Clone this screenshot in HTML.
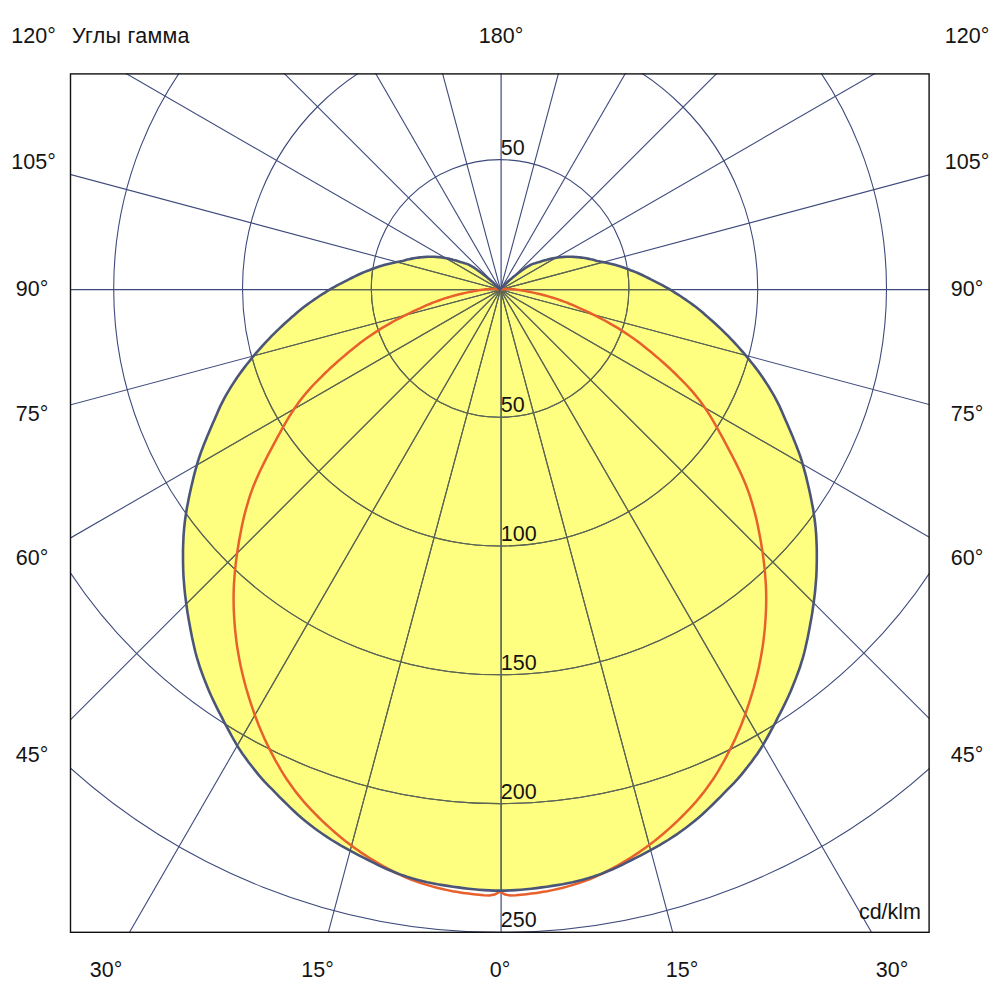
<!DOCTYPE html>
<html><head><meta charset="utf-8"><title>Polar diagram</title><style>
html,body{margin:0;padding:0;background:#fff;}
body{width:1000px;height:1000px;position:relative;overflow:hidden;font-family:"Liberation Sans",sans-serif;}
</style></head><body>
<svg width="1000" height="1000" viewBox="0 0 1000 1000" style="position:absolute;left:0;top:0">
<defs><clipPath id="c"><rect x="70.5" y="73.5" width="859" height="859"/></clipPath><clipPath id="y"><path d="M499.9,289.7 L498.8,288.4 L498.1,287.7 L497.4,286.9 L496.6,286.0 L495.7,285.1 L494.8,284.3 L493.9,283.4 L493.0,282.5 L492.0,281.6 L490.9,280.7 L489.6,279.6 L488.2,278.4 L486.6,277.1 L484.9,275.7 L483.0,274.3 L481.1,272.8 L479.0,271.2 L476.9,269.7 L474.8,268.2 L472.7,266.9 L470.9,265.8 L469.4,265.0 L468.1,264.4 L466.9,263.9 L465.8,263.5 L464.7,263.2 L463.7,262.9 L462.6,262.6 L461.4,262.3 L460.2,261.9 L458.9,261.5 L457.5,261.1 L456.0,260.6 L454.5,260.2 L452.9,259.8 L451.3,259.3 L449.7,258.9 L448.1,258.6 L446.5,258.3 L444.9,258.0 L443.4,257.7 L441.8,257.5 L440.2,257.3 L438.6,257.1 L437.0,257.0 L435.5,256.9 L433.9,256.8 L432.4,256.8 L430.9,256.8 L429.4,256.8 L427.8,256.8 L426.3,256.9 L424.7,257.0 L423.2,257.1 L421.6,257.3 L420.0,257.4 L418.4,257.6 L416.8,257.8 L415.2,258.0 L413.7,258.3 L412.1,258.6 L410.5,258.9 L408.9,259.3 L407.4,259.6 L405.8,260.0 L404.2,260.5 L402.6,260.9 L400.8,261.3 L398.9,261.7 L396.9,262.1 L394.8,262.5 L392.6,262.9 L390.4,263.4 L388.3,263.9 L386.1,264.5 L384.0,265.1 L381.9,265.7 L379.8,266.3 L377.7,267.1 L375.6,267.8 L373.5,268.6 L371.4,269.3 L369.2,270.2 L367.0,271.0 L364.8,271.9 L362.6,272.8 L360.4,273.8 L358.2,274.8 L356.0,275.8 L353.8,276.9 L351.6,278.0 L349.3,279.2 L347.0,280.3 L344.5,281.6 L342.1,282.8 L339.6,284.1 L337.1,285.4 L334.6,286.8 L332.1,288.2 L329.6,289.7 L327.1,291.2 L324.6,292.8 L322.0,294.4 L319.5,296.0 L317.0,297.7 L314.5,299.4 L311.9,301.2 L309.3,303.0 L306.8,304.9 L304.2,306.8 L301.7,308.8 L299.2,310.8 L296.8,312.8 L294.4,314.9 L291.9,317.1 L289.5,319.3 L286.9,321.5 L284.4,323.8 L281.8,326.2 L279.2,328.6 L276.6,331.1 L274.1,333.6 L271.5,336.2 L269.0,338.8 L266.5,341.4 L264.0,344.2 L261.4,347.0 L258.9,349.8 L256.4,352.7 L253.9,355.6 L251.4,358.6 L249.0,361.7 L246.5,364.8 L244.1,367.9 L241.7,371.1 L239.4,374.3 L237.1,377.6 L234.8,381.0 L232.6,384.4 L230.4,387.8 L228.3,391.3 L226.2,394.8 L224.3,398.3 L222.5,401.8 L220.7,405.3 L219.1,408.9 L217.5,412.5 L215.9,416.2 L214.3,419.9 L212.7,423.6 L211.0,427.5 L209.3,431.4 L207.6,435.4 L206.0,439.5 L204.3,443.6 L202.7,447.7 L201.1,451.9 L199.6,456.2 L198.2,460.4 L197.0,464.6 L195.8,468.8 L194.6,473.1 L193.5,477.4 L192.5,481.8 L191.4,486.2 L190.4,490.7 L189.4,495.2 L188.5,499.8 L187.6,504.4 L186.7,509.0 L186.0,513.6 L185.3,518.3 L184.7,523.0 L184.2,527.6 L183.8,532.3 L183.5,536.9 L183.3,541.6 L183.1,546.2 L183.0,550.9 L183.0,555.6 L183.0,560.3 L183.1,565.1 L183.2,569.8 L183.4,574.6 L183.7,579.4 L184.1,584.2 L184.5,589.0 L185.0,593.8 L185.6,598.6 L186.2,603.4 L186.9,608.2 L187.6,613.1 L188.4,617.9 L189.3,622.8 L190.2,627.7 L191.1,632.6 L192.1,637.6 L193.2,642.5 L194.3,647.5 L195.5,652.5 L196.8,657.3 L198.3,662.2 L199.8,667.0 L201.5,671.7 L203.2,676.4 L205.0,681.1 L206.9,685.7 L208.8,690.4 L210.8,695.0 L212.9,699.5 L215.1,704.1 L217.3,708.6 L219.6,713.2 L222.0,717.7 L224.3,722.3 L226.8,726.8 L229.2,731.4 L231.7,736.0 L234.3,740.6 L236.9,745.2 L239.7,749.6 L242.6,753.9 L245.6,758.1 L248.6,762.2 L251.8,766.3 L255.0,770.4 L258.2,774.4 L261.6,778.3 L265.0,782.1 L268.6,785.8 L272.2,789.4 L275.8,793.1 L279.4,796.8 L283.1,800.5 L286.8,804.2 L290.6,807.9 L294.4,811.5 L298.2,815.0 L302.2,818.5 L306.2,821.8 L310.3,825.0 L314.5,828.2 L318.7,831.3 L323.0,834.3 L327.3,837.2 L331.7,840.0 L336.1,842.6 L340.6,845.3 L345.1,847.8 L349.7,850.3 L354.3,852.8 L358.9,855.3 L363.5,857.7 L368.2,860.0 L372.9,862.4 L377.7,864.8 L382.4,867.1 L387.2,869.3 L392.1,871.3 L397.0,873.3 L401.9,875.1 L406.9,876.8 L411.9,878.3 L417.0,879.7 L422.1,881.0 L427.2,882.2 L432.3,883.2 L437.4,884.2 L442.6,885.1 L447.7,885.9 L452.9,886.7 L458.1,887.4 L463.3,888.1 L468.5,888.7 L473.7,889.2 L478.9,889.7 L484.2,890.1 L489.4,890.4 L494.7,890.6 L499.9,890.6 L505.1,890.6 L510.4,890.4 L515.6,890.1 L520.9,889.7 L526.1,889.2 L531.3,888.7 L536.5,888.1 L541.7,887.4 L546.9,886.7 L552.1,885.9 L557.2,885.1 L562.4,884.2 L567.5,883.2 L572.6,882.2 L577.7,881.0 L582.8,879.7 L587.9,878.3 L592.9,876.8 L597.9,875.1 L602.8,873.3 L607.7,871.3 L612.6,869.3 L617.4,867.1 L622.1,864.8 L626.9,862.4 L631.6,860.0 L636.3,857.7 L640.9,855.3 L645.5,852.8 L650.1,850.3 L654.7,847.8 L659.2,845.3 L663.7,842.6 L668.1,840.0 L672.5,837.2 L676.8,834.3 L681.1,831.3 L685.3,828.2 L689.5,825.0 L693.6,821.8 L697.6,818.5 L701.6,815.0 L705.4,811.5 L709.2,807.9 L713.0,804.2 L716.7,800.5 L720.4,796.8 L724.0,793.1 L727.6,789.4 L731.2,785.8 L734.8,782.1 L738.2,778.3 L741.6,774.4 L744.8,770.4 L748.0,766.3 L751.2,762.2 L754.2,758.1 L757.2,753.9 L760.1,749.6 L762.9,745.2 L765.5,740.6 L768.1,736.0 L770.6,731.4 L773.0,726.8 L775.5,722.3 L777.8,717.7 L780.2,713.2 L782.5,708.6 L784.7,704.1 L786.9,699.5 L789.0,695.0 L791.0,690.4 L792.9,685.7 L794.8,681.1 L796.6,676.4 L798.3,671.7 L800.0,667.0 L801.5,662.2 L803.0,657.3 L804.3,652.5 L805.5,647.5 L806.6,642.5 L807.7,637.6 L808.7,632.6 L809.6,627.7 L810.5,622.8 L811.4,617.9 L812.2,613.1 L812.9,608.2 L813.6,603.4 L814.2,598.6 L814.8,593.8 L815.3,589.0 L815.7,584.2 L816.1,579.4 L816.4,574.6 L816.6,569.8 L816.7,565.1 L816.8,560.3 L816.8,555.6 L816.8,550.9 L816.7,546.2 L816.5,541.6 L816.3,536.9 L816.0,532.3 L815.6,527.6 L815.1,523.0 L814.5,518.3 L813.8,513.6 L813.1,509.0 L812.2,504.4 L811.3,499.8 L810.4,495.2 L809.4,490.7 L808.4,486.2 L807.3,481.8 L806.3,477.4 L805.2,473.1 L804.0,468.8 L802.8,464.6 L801.6,460.4 L800.2,456.2 L798.7,451.9 L797.1,447.7 L795.5,443.6 L793.8,439.5 L792.2,435.4 L790.5,431.4 L788.8,427.5 L787.1,423.6 L785.5,419.9 L783.9,416.2 L782.3,412.5 L780.7,408.9 L779.1,405.3 L777.3,401.8 L775.5,398.3 L773.6,394.8 L771.5,391.3 L769.4,387.8 L767.2,384.4 L765.0,381.0 L762.7,377.6 L760.4,374.3 L758.1,371.1 L755.7,367.9 L753.3,364.8 L750.8,361.7 L748.4,358.6 L745.9,355.6 L743.4,352.7 L740.9,349.8 L738.4,347.0 L735.8,344.2 L733.3,341.4 L730.8,338.8 L728.3,336.2 L725.7,333.6 L723.2,331.1 L720.6,328.6 L718.0,326.2 L715.4,323.8 L712.9,321.5 L710.3,319.3 L707.9,317.1 L705.4,314.9 L703.0,312.8 L700.6,310.8 L698.1,308.8 L695.6,306.8 L693.0,304.9 L690.5,303.0 L687.9,301.2 L685.3,299.4 L682.8,297.7 L680.3,296.0 L677.8,294.4 L675.2,292.8 L672.7,291.2 L670.2,289.7 L667.7,288.2 L665.2,286.8 L662.7,285.4 L660.2,284.1 L657.7,282.8 L655.3,281.6 L652.8,280.3 L650.5,279.2 L648.2,278.0 L646.0,276.9 L643.8,275.8 L641.6,274.8 L639.4,273.8 L637.2,272.8 L635.0,271.9 L632.8,271.0 L630.6,270.2 L628.4,269.3 L626.3,268.6 L624.2,267.8 L622.1,267.1 L620.0,266.3 L617.9,265.7 L615.8,265.1 L613.7,264.5 L611.5,263.9 L609.4,263.4 L607.2,262.9 L605.0,262.5 L602.9,262.1 L600.9,261.7 L599.0,261.3 L597.2,260.9 L595.6,260.5 L594.0,260.0 L592.4,259.6 L590.9,259.3 L589.3,258.9 L587.7,258.6 L586.1,258.3 L584.6,258.0 L583.0,257.8 L581.4,257.6 L579.8,257.4 L578.2,257.3 L576.6,257.1 L575.1,257.0 L573.5,256.9 L572.0,256.8 L570.4,256.8 L568.9,256.8 L567.4,256.8 L565.9,256.8 L564.3,256.9 L562.8,257.0 L561.2,257.1 L559.6,257.3 L558.0,257.5 L556.4,257.7 L554.9,258.0 L553.3,258.3 L551.7,258.6 L550.1,258.9 L548.5,259.3 L546.9,259.8 L545.3,260.2 L543.8,260.6 L542.3,261.1 L540.9,261.5 L539.6,261.9 L538.4,262.3 L537.2,262.6 L536.1,262.9 L535.1,263.2 L534.0,263.5 L532.9,263.9 L531.7,264.4 L530.4,265.0 L528.9,265.8 L527.1,266.9 L525.0,268.2 L522.9,269.7 L520.8,271.2 L518.7,272.8 L516.8,274.3 L514.9,275.7 L513.2,277.1 L511.6,278.4 L510.2,279.6 L508.9,280.7 L507.8,281.6 L506.8,282.5 L505.9,283.4 L505.0,284.3 L504.1,285.1 L503.2,286.0 L502.4,286.9 L501.7,287.7 L501.0,288.4 L499.9,289.7 Z"/></clipPath></defs>
<rect x="0" y="0" width="1000" height="1000" fill="#fff"/>
<g clip-path="url(#c)">
<path d="M499.9,289.7 L498.8,288.4 L498.1,287.7 L497.4,286.9 L496.6,286.0 L495.7,285.1 L494.8,284.3 L493.9,283.4 L493.0,282.5 L492.0,281.6 L490.9,280.7 L489.6,279.6 L488.2,278.4 L486.6,277.1 L484.9,275.7 L483.0,274.3 L481.1,272.8 L479.0,271.2 L476.9,269.7 L474.8,268.2 L472.7,266.9 L470.9,265.8 L469.4,265.0 L468.1,264.4 L466.9,263.9 L465.8,263.5 L464.7,263.2 L463.7,262.9 L462.6,262.6 L461.4,262.3 L460.2,261.9 L458.9,261.5 L457.5,261.1 L456.0,260.6 L454.5,260.2 L452.9,259.8 L451.3,259.3 L449.7,258.9 L448.1,258.6 L446.5,258.3 L444.9,258.0 L443.4,257.7 L441.8,257.5 L440.2,257.3 L438.6,257.1 L437.0,257.0 L435.5,256.9 L433.9,256.8 L432.4,256.8 L430.9,256.8 L429.4,256.8 L427.8,256.8 L426.3,256.9 L424.7,257.0 L423.2,257.1 L421.6,257.3 L420.0,257.4 L418.4,257.6 L416.8,257.8 L415.2,258.0 L413.7,258.3 L412.1,258.6 L410.5,258.9 L408.9,259.3 L407.4,259.6 L405.8,260.0 L404.2,260.5 L402.6,260.9 L400.8,261.3 L398.9,261.7 L396.9,262.1 L394.8,262.5 L392.6,262.9 L390.4,263.4 L388.3,263.9 L386.1,264.5 L384.0,265.1 L381.9,265.7 L379.8,266.3 L377.7,267.1 L375.6,267.8 L373.5,268.6 L371.4,269.3 L369.2,270.2 L367.0,271.0 L364.8,271.9 L362.6,272.8 L360.4,273.8 L358.2,274.8 L356.0,275.8 L353.8,276.9 L351.6,278.0 L349.3,279.2 L347.0,280.3 L344.5,281.6 L342.1,282.8 L339.6,284.1 L337.1,285.4 L334.6,286.8 L332.1,288.2 L329.6,289.7 L327.1,291.2 L324.6,292.8 L322.0,294.4 L319.5,296.0 L317.0,297.7 L314.5,299.4 L311.9,301.2 L309.3,303.0 L306.8,304.9 L304.2,306.8 L301.7,308.8 L299.2,310.8 L296.8,312.8 L294.4,314.9 L291.9,317.1 L289.5,319.3 L286.9,321.5 L284.4,323.8 L281.8,326.2 L279.2,328.6 L276.6,331.1 L274.1,333.6 L271.5,336.2 L269.0,338.8 L266.5,341.4 L264.0,344.2 L261.4,347.0 L258.9,349.8 L256.4,352.7 L253.9,355.6 L251.4,358.6 L249.0,361.7 L246.5,364.8 L244.1,367.9 L241.7,371.1 L239.4,374.3 L237.1,377.6 L234.8,381.0 L232.6,384.4 L230.4,387.8 L228.3,391.3 L226.2,394.8 L224.3,398.3 L222.5,401.8 L220.7,405.3 L219.1,408.9 L217.5,412.5 L215.9,416.2 L214.3,419.9 L212.7,423.6 L211.0,427.5 L209.3,431.4 L207.6,435.4 L206.0,439.5 L204.3,443.6 L202.7,447.7 L201.1,451.9 L199.6,456.2 L198.2,460.4 L197.0,464.6 L195.8,468.8 L194.6,473.1 L193.5,477.4 L192.5,481.8 L191.4,486.2 L190.4,490.7 L189.4,495.2 L188.5,499.8 L187.6,504.4 L186.7,509.0 L186.0,513.6 L185.3,518.3 L184.7,523.0 L184.2,527.6 L183.8,532.3 L183.5,536.9 L183.3,541.6 L183.1,546.2 L183.0,550.9 L183.0,555.6 L183.0,560.3 L183.1,565.1 L183.2,569.8 L183.4,574.6 L183.7,579.4 L184.1,584.2 L184.5,589.0 L185.0,593.8 L185.6,598.6 L186.2,603.4 L186.9,608.2 L187.6,613.1 L188.4,617.9 L189.3,622.8 L190.2,627.7 L191.1,632.6 L192.1,637.6 L193.2,642.5 L194.3,647.5 L195.5,652.5 L196.8,657.3 L198.3,662.2 L199.8,667.0 L201.5,671.7 L203.2,676.4 L205.0,681.1 L206.9,685.7 L208.8,690.4 L210.8,695.0 L212.9,699.5 L215.1,704.1 L217.3,708.6 L219.6,713.2 L222.0,717.7 L224.3,722.3 L226.8,726.8 L229.2,731.4 L231.7,736.0 L234.3,740.6 L236.9,745.2 L239.7,749.6 L242.6,753.9 L245.6,758.1 L248.6,762.2 L251.8,766.3 L255.0,770.4 L258.2,774.4 L261.6,778.3 L265.0,782.1 L268.6,785.8 L272.2,789.4 L275.8,793.1 L279.4,796.8 L283.1,800.5 L286.8,804.2 L290.6,807.9 L294.4,811.5 L298.2,815.0 L302.2,818.5 L306.2,821.8 L310.3,825.0 L314.5,828.2 L318.7,831.3 L323.0,834.3 L327.3,837.2 L331.7,840.0 L336.1,842.6 L340.6,845.3 L345.1,847.8 L349.7,850.3 L354.3,852.8 L358.9,855.3 L363.5,857.7 L368.2,860.0 L372.9,862.4 L377.7,864.8 L382.4,867.1 L387.2,869.3 L392.1,871.3 L397.0,873.3 L401.9,875.1 L406.9,876.8 L411.9,878.3 L417.0,879.7 L422.1,881.0 L427.2,882.2 L432.3,883.2 L437.4,884.2 L442.6,885.1 L447.7,885.9 L452.9,886.7 L458.1,887.4 L463.3,888.1 L468.5,888.7 L473.7,889.2 L478.9,889.7 L484.2,890.1 L489.4,890.4 L494.7,890.6 L499.9,890.6 L505.1,890.6 L510.4,890.4 L515.6,890.1 L520.9,889.7 L526.1,889.2 L531.3,888.7 L536.5,888.1 L541.7,887.4 L546.9,886.7 L552.1,885.9 L557.2,885.1 L562.4,884.2 L567.5,883.2 L572.6,882.2 L577.7,881.0 L582.8,879.7 L587.9,878.3 L592.9,876.8 L597.9,875.1 L602.8,873.3 L607.7,871.3 L612.6,869.3 L617.4,867.1 L622.1,864.8 L626.9,862.4 L631.6,860.0 L636.3,857.7 L640.9,855.3 L645.5,852.8 L650.1,850.3 L654.7,847.8 L659.2,845.3 L663.7,842.6 L668.1,840.0 L672.5,837.2 L676.8,834.3 L681.1,831.3 L685.3,828.2 L689.5,825.0 L693.6,821.8 L697.6,818.5 L701.6,815.0 L705.4,811.5 L709.2,807.9 L713.0,804.2 L716.7,800.5 L720.4,796.8 L724.0,793.1 L727.6,789.4 L731.2,785.8 L734.8,782.1 L738.2,778.3 L741.6,774.4 L744.8,770.4 L748.0,766.3 L751.2,762.2 L754.2,758.1 L757.2,753.9 L760.1,749.6 L762.9,745.2 L765.5,740.6 L768.1,736.0 L770.6,731.4 L773.0,726.8 L775.5,722.3 L777.8,717.7 L780.2,713.2 L782.5,708.6 L784.7,704.1 L786.9,699.5 L789.0,695.0 L791.0,690.4 L792.9,685.7 L794.8,681.1 L796.6,676.4 L798.3,671.7 L800.0,667.0 L801.5,662.2 L803.0,657.3 L804.3,652.5 L805.5,647.5 L806.6,642.5 L807.7,637.6 L808.7,632.6 L809.6,627.7 L810.5,622.8 L811.4,617.9 L812.2,613.1 L812.9,608.2 L813.6,603.4 L814.2,598.6 L814.8,593.8 L815.3,589.0 L815.7,584.2 L816.1,579.4 L816.4,574.6 L816.6,569.8 L816.7,565.1 L816.8,560.3 L816.8,555.6 L816.8,550.9 L816.7,546.2 L816.5,541.6 L816.3,536.9 L816.0,532.3 L815.6,527.6 L815.1,523.0 L814.5,518.3 L813.8,513.6 L813.1,509.0 L812.2,504.4 L811.3,499.8 L810.4,495.2 L809.4,490.7 L808.4,486.2 L807.3,481.8 L806.3,477.4 L805.2,473.1 L804.0,468.8 L802.8,464.6 L801.6,460.4 L800.2,456.2 L798.7,451.9 L797.1,447.7 L795.5,443.6 L793.8,439.5 L792.2,435.4 L790.5,431.4 L788.8,427.5 L787.1,423.6 L785.5,419.9 L783.9,416.2 L782.3,412.5 L780.7,408.9 L779.1,405.3 L777.3,401.8 L775.5,398.3 L773.6,394.8 L771.5,391.3 L769.4,387.8 L767.2,384.4 L765.0,381.0 L762.7,377.6 L760.4,374.3 L758.1,371.1 L755.7,367.9 L753.3,364.8 L750.8,361.7 L748.4,358.6 L745.9,355.6 L743.4,352.7 L740.9,349.8 L738.4,347.0 L735.8,344.2 L733.3,341.4 L730.8,338.8 L728.3,336.2 L725.7,333.6 L723.2,331.1 L720.6,328.6 L718.0,326.2 L715.4,323.8 L712.9,321.5 L710.3,319.3 L707.9,317.1 L705.4,314.9 L703.0,312.8 L700.6,310.8 L698.1,308.8 L695.6,306.8 L693.0,304.9 L690.5,303.0 L687.9,301.2 L685.3,299.4 L682.8,297.7 L680.3,296.0 L677.8,294.4 L675.2,292.8 L672.7,291.2 L670.2,289.7 L667.7,288.2 L665.2,286.8 L662.7,285.4 L660.2,284.1 L657.7,282.8 L655.3,281.6 L652.8,280.3 L650.5,279.2 L648.2,278.0 L646.0,276.9 L643.8,275.8 L641.6,274.8 L639.4,273.8 L637.2,272.8 L635.0,271.9 L632.8,271.0 L630.6,270.2 L628.4,269.3 L626.3,268.6 L624.2,267.8 L622.1,267.1 L620.0,266.3 L617.9,265.7 L615.8,265.1 L613.7,264.5 L611.5,263.9 L609.4,263.4 L607.2,262.9 L605.0,262.5 L602.9,262.1 L600.9,261.7 L599.0,261.3 L597.2,260.9 L595.6,260.5 L594.0,260.0 L592.4,259.6 L590.9,259.3 L589.3,258.9 L587.7,258.6 L586.1,258.3 L584.6,258.0 L583.0,257.8 L581.4,257.6 L579.8,257.4 L578.2,257.3 L576.6,257.1 L575.1,257.0 L573.5,256.9 L572.0,256.8 L570.4,256.8 L568.9,256.8 L567.4,256.8 L565.9,256.8 L564.3,256.9 L562.8,257.0 L561.2,257.1 L559.6,257.3 L558.0,257.5 L556.4,257.7 L554.9,258.0 L553.3,258.3 L551.7,258.6 L550.1,258.9 L548.5,259.3 L546.9,259.8 L545.3,260.2 L543.8,260.6 L542.3,261.1 L540.9,261.5 L539.6,261.9 L538.4,262.3 L537.2,262.6 L536.1,262.9 L535.1,263.2 L534.0,263.5 L532.9,263.9 L531.7,264.4 L530.4,265.0 L528.9,265.8 L527.1,266.9 L525.0,268.2 L522.9,269.7 L520.8,271.2 L518.7,272.8 L516.8,274.3 L514.9,275.7 L513.2,277.1 L511.6,278.4 L510.2,279.6 L508.9,280.7 L507.8,281.6 L506.8,282.5 L505.9,283.4 L505.0,284.3 L504.1,285.1 L503.2,286.0 L502.4,286.9 L501.7,287.7 L501.0,288.4 L499.9,289.7 Z" fill="#fefe80" stroke="none"/>
<g fill="none" stroke="#3e4a7c" stroke-width="1.1"><circle cx="500.10" cy="288.40" r="128.80"/><circle cx="500.10" cy="288.40" r="257.60"/><circle cx="500.10" cy="288.40" r="386.40"/><circle cx="500.10" cy="288.40" r="515.20"/><circle cx="500.10" cy="288.40" r="644.00"/><line x1="500.50" y1="289.70" x2="811.08" y2="1448.81"/><line x1="500.50" y1="289.70" x2="1100.50" y2="1328.93"/><line x1="500.50" y1="289.70" x2="1349.03" y2="1138.23"/><line x1="500.50" y1="289.70" x2="1539.73" y2="889.70"/><line x1="500.50" y1="289.70" x2="1659.61" y2="600.28"/><line x1="500.50" y1="289.70" x2="1659.61" y2="-20.88"/><line x1="500.50" y1="289.70" x2="1539.73" y2="-310.30"/><line x1="500.50" y1="289.70" x2="1349.03" y2="-558.83"/><line x1="500.50" y1="289.70" x2="1100.50" y2="-749.53"/><line x1="500.50" y1="289.70" x2="811.08" y2="-869.41"/><line x1="500.50" y1="289.70" x2="189.92" y2="-869.41"/><line x1="500.50" y1="289.70" x2="-99.50" y2="-749.53"/><line x1="500.50" y1="289.70" x2="-348.03" y2="-558.83"/><line x1="500.50" y1="289.70" x2="-538.73" y2="-310.30"/><line x1="500.50" y1="289.70" x2="-658.61" y2="-20.88"/><line x1="500.50" y1="289.70" x2="-658.61" y2="600.28"/><line x1="500.50" y1="289.70" x2="-538.73" y2="889.70"/><line x1="500.50" y1="289.70" x2="-348.03" y2="1138.23"/><line x1="500.50" y1="289.70" x2="-99.50" y2="1328.93"/><line x1="500.50" y1="289.70" x2="189.92" y2="1448.81"/><line x1="501.10" y1="0" x2="501.10" y2="1000" stroke-width="1.2"/><line x1="0" y1="289.70" x2="1000" y2="289.70" stroke-width="1.2"/></g>
<g clip-path="url(#y)"><g fill="none" stroke="#5e6848" stroke-width="1.1"><circle cx="500.10" cy="288.40" r="128.80"/><circle cx="500.10" cy="288.40" r="257.60"/><circle cx="500.10" cy="288.40" r="386.40"/><circle cx="500.10" cy="288.40" r="515.20"/><circle cx="500.10" cy="288.40" r="644.00"/><line x1="500.50" y1="289.70" x2="811.08" y2="1448.81"/><line x1="500.50" y1="289.70" x2="1100.50" y2="1328.93"/><line x1="500.50" y1="289.70" x2="1349.03" y2="1138.23"/><line x1="500.50" y1="289.70" x2="1539.73" y2="889.70"/><line x1="500.50" y1="289.70" x2="1659.61" y2="600.28"/><line x1="500.50" y1="289.70" x2="1659.61" y2="-20.88"/><line x1="500.50" y1="289.70" x2="1539.73" y2="-310.30"/><line x1="500.50" y1="289.70" x2="1349.03" y2="-558.83"/><line x1="500.50" y1="289.70" x2="1100.50" y2="-749.53"/><line x1="500.50" y1="289.70" x2="811.08" y2="-869.41"/><line x1="500.50" y1="289.70" x2="189.92" y2="-869.41"/><line x1="500.50" y1="289.70" x2="-99.50" y2="-749.53"/><line x1="500.50" y1="289.70" x2="-348.03" y2="-558.83"/><line x1="500.50" y1="289.70" x2="-538.73" y2="-310.30"/><line x1="500.50" y1="289.70" x2="-658.61" y2="-20.88"/><line x1="500.50" y1="289.70" x2="-658.61" y2="600.28"/><line x1="500.50" y1="289.70" x2="-538.73" y2="889.70"/><line x1="500.50" y1="289.70" x2="-348.03" y2="1138.23"/><line x1="500.50" y1="289.70" x2="-99.50" y2="1328.93"/><line x1="500.50" y1="289.70" x2="189.92" y2="1448.81"/><line x1="501.10" y1="0" x2="501.10" y2="1000" stroke-width="1.2"/><line x1="0" y1="289.70" x2="1000" y2="289.70" stroke-width="1.2"/></g></g>
<path d="M499.9,289.7 L498.2,289.4 L497.7,289.4 L497.2,289.3 L496.5,289.2 L495.9,289.2 L495.1,289.1 L494.4,289.1 L493.6,289.0 L492.8,289.0 L492.0,289.0 L491.2,289.0 L490.4,289.0 L489.5,289.1 L488.6,289.1 L487.7,289.2 L486.7,289.2 L485.7,289.3 L484.7,289.4 L483.7,289.6 L482.6,289.7 L481.4,289.9 L480.2,290.0 L478.9,290.2 L477.6,290.5 L476.1,290.7 L474.5,291.0 L472.8,291.4 L470.9,291.7 L468.9,292.1 L466.7,292.6 L464.4,293.1 L461.9,293.7 L459.3,294.3 L456.6,295.0 L453.7,295.8 L450.8,296.6 L447.8,297.5 L444.8,298.4 L441.8,299.4 L438.8,300.5 L435.8,301.6 L432.8,302.7 L429.8,304.0 L426.7,305.2 L423.6,306.6 L420.4,308.1 L417.0,309.6 L413.5,311.2 L409.8,313.0 L406.0,314.8 L402.1,316.8 L398.2,318.9 L394.2,321.0 L390.1,323.3 L386.2,325.6 L382.2,327.9 L378.3,330.4 L374.5,332.9 L370.6,335.5 L366.9,338.1 L363.1,340.8 L359.4,343.6 L355.7,346.5 L352.0,349.5 L348.2,352.5 L344.5,355.7 L340.7,358.9 L336.9,362.3 L333.0,365.8 L329.1,369.3 L325.2,373.0 L321.4,376.8 L317.6,380.6 L313.8,384.5 L310.2,388.4 L306.7,392.4 L303.4,396.4 L300.3,400.3 L297.4,404.3 L294.6,408.2 L292.0,412.2 L289.5,416.1 L287.1,420.1 L284.8,424.1 L282.5,428.2 L280.2,432.4 L277.8,436.7 L275.4,441.1 L273.0,445.7 L270.5,450.3 L267.9,455.2 L265.4,460.1 L262.9,465.1 L260.4,470.2 L258.1,475.3 L255.8,480.4 L253.7,485.5 L251.8,490.6 L250.0,495.7 L248.4,500.8 L246.9,505.8 L245.5,510.9 L244.2,515.9 L243.0,521.0 L241.9,526.1 L240.9,531.2 L239.9,536.5 L238.9,541.7 L238.1,547.0 L237.2,552.4 L236.5,557.8 L235.8,563.2 L235.2,568.6 L234.7,574.1 L234.3,579.6 L233.9,585.1 L233.7,590.6 L233.6,596.0 L233.6,601.5 L233.7,606.9 L233.9,612.4 L234.2,617.8 L234.6,623.3 L235.0,628.7 L235.6,634.2 L236.2,639.6 L236.9,645.1 L237.8,650.5 L238.7,655.9 L239.7,661.3 L240.8,666.7 L242.0,672.1 L243.3,677.4 L244.7,682.7 L246.1,688.0 L247.7,693.3 L249.3,698.6 L251.0,703.9 L252.8,709.2 L254.6,714.5 L256.6,719.8 L258.6,725.0 L260.8,730.2 L263.0,735.3 L265.3,740.4 L267.7,745.4 L270.2,750.4 L272.8,755.4 L275.4,760.4 L278.2,765.2 L281.0,770.1 L283.9,774.8 L286.9,779.5 L290.1,784.0 L293.3,788.5 L296.6,792.9 L300.0,797.1 L303.5,801.3 L307.1,805.3 L310.8,809.3 L314.5,813.2 L318.3,817.0 L322.2,820.8 L326.1,824.5 L330.1,828.1 L334.2,831.7 L338.3,835.2 L342.5,838.7 L346.7,842.1 L351.0,845.3 L355.4,848.5 L359.8,851.6 L364.3,854.6 L368.8,857.5 L373.4,860.3 L378.0,863.1 L382.7,865.8 L387.4,868.4 L392.2,870.9 L397.0,873.3 L401.9,875.6 L406.8,877.8 L411.7,879.8 L416.7,881.6 L421.7,883.3 L426.8,884.9 L431.9,886.4 L437.0,887.8 L442.2,889.0 L447.4,890.1 L452.6,891.2 L457.8,892.1 L463.0,892.9 L468.3,893.6 L473.5,894.2 L478.8,894.8 L484.0,895.3 L489.3,895.5 L494.6,894.6 L499.9,891.6 L505.2,894.6 L510.5,895.5 L515.8,895.3 L521.0,894.8 L526.3,894.2 L531.5,893.6 L536.8,892.9 L542.0,892.1 L547.2,891.2 L552.4,890.1 L557.6,889.0 L562.8,887.8 L567.9,886.4 L573.0,884.9 L578.1,883.3 L583.1,881.6 L588.1,879.8 L593.0,877.8 L597.9,875.6 L602.8,873.3 L607.6,870.9 L612.4,868.4 L617.1,865.8 L621.8,863.1 L626.4,860.3 L631.0,857.5 L635.5,854.6 L640.0,851.6 L644.4,848.5 L648.8,845.3 L653.1,842.1 L657.3,838.7 L661.5,835.2 L665.6,831.7 L669.7,828.1 L673.7,824.5 L677.6,820.8 L681.5,817.0 L685.3,813.2 L689.0,809.3 L692.7,805.3 L696.3,801.3 L699.8,797.1 L703.2,792.9 L706.5,788.5 L709.7,784.0 L712.9,779.5 L715.9,774.8 L718.8,770.1 L721.6,765.2 L724.4,760.4 L727.0,755.4 L729.6,750.4 L732.1,745.4 L734.5,740.4 L736.8,735.3 L739.0,730.2 L741.2,725.0 L743.2,719.8 L745.2,714.5 L747.0,709.2 L748.8,703.9 L750.5,698.6 L752.1,693.3 L753.7,688.0 L755.1,682.7 L756.5,677.4 L757.8,672.1 L759.0,666.7 L760.1,661.3 L761.1,655.9 L762.0,650.5 L762.9,645.1 L763.6,639.6 L764.2,634.2 L764.8,628.7 L765.2,623.3 L765.6,617.8 L765.9,612.4 L766.1,606.9 L766.2,601.5 L766.2,596.0 L766.1,590.6 L765.9,585.1 L765.5,579.6 L765.1,574.1 L764.6,568.6 L764.0,563.2 L763.3,557.8 L762.6,552.4 L761.7,547.0 L760.9,541.7 L759.9,536.5 L758.9,531.2 L757.9,526.1 L756.8,521.0 L755.6,515.9 L754.3,510.9 L752.9,505.8 L751.4,500.8 L749.8,495.7 L748.0,490.6 L746.1,485.5 L744.0,480.4 L741.7,475.3 L739.4,470.2 L736.9,465.1 L734.4,460.1 L731.9,455.2 L729.3,450.3 L726.8,445.7 L724.4,441.1 L722.0,436.7 L719.6,432.4 L717.3,428.2 L715.0,424.1 L712.7,420.1 L710.3,416.1 L707.8,412.2 L705.2,408.2 L702.4,404.3 L699.5,400.3 L696.4,396.4 L693.1,392.4 L689.6,388.4 L686.0,384.5 L682.2,380.6 L678.4,376.8 L674.6,373.0 L670.7,369.3 L666.8,365.8 L662.9,362.3 L659.1,358.9 L655.3,355.7 L651.6,352.5 L647.8,349.5 L644.1,346.5 L640.4,343.6 L636.7,340.8 L632.9,338.1 L629.2,335.5 L625.3,332.9 L621.5,330.4 L617.6,327.9 L613.6,325.6 L609.7,323.3 L605.6,321.0 L601.6,318.9 L597.7,316.8 L593.8,314.8 L590.0,313.0 L586.3,311.2 L582.8,309.6 L579.4,308.1 L576.2,306.6 L573.1,305.2 L570.0,304.0 L567.0,302.7 L564.0,301.6 L561.0,300.5 L558.0,299.4 L555.0,298.4 L552.0,297.5 L549.0,296.6 L546.1,295.8 L543.2,295.0 L540.5,294.3 L537.9,293.7 L535.4,293.1 L533.1,292.6 L530.9,292.1 L528.9,291.7 L527.0,291.4 L525.3,291.0 L523.7,290.7 L522.2,290.5 L520.9,290.2 L519.6,290.0 L518.4,289.9 L517.2,289.7 L516.1,289.6 L515.1,289.4 L514.1,289.3 L513.1,289.2 L512.1,289.2 L511.2,289.1 L510.3,289.1 L509.4,289.0 L508.6,289.0 L507.8,289.0 L507.0,289.0 L506.2,289.0 L505.4,289.1 L504.7,289.1 L503.9,289.2 L503.3,289.2 L502.6,289.3 L502.1,289.4 L501.6,289.4 L499.9,289.7" fill="none" stroke="#e8602c" stroke-width="2.5" stroke-linejoin="round"/>
<path d="M499.9,289.7 L498.8,288.4 L498.1,287.7 L497.4,286.9 L496.6,286.0 L495.7,285.1 L494.8,284.3 L493.9,283.4 L493.0,282.5 L492.0,281.6 L490.9,280.7 L489.6,279.6 L488.2,278.4 L486.6,277.1 L484.9,275.7 L483.0,274.3 L481.1,272.8 L479.0,271.2 L476.9,269.7 L474.8,268.2 L472.7,266.9 L470.9,265.8 L469.4,265.0 L468.1,264.4 L466.9,263.9 L465.8,263.5 L464.7,263.2 L463.7,262.9 L462.6,262.6 L461.4,262.3 L460.2,261.9 L458.9,261.5 L457.5,261.1 L456.0,260.6 L454.5,260.2 L452.9,259.8 L451.3,259.3 L449.7,258.9 L448.1,258.6 L446.5,258.3 L444.9,258.0 L443.4,257.7 L441.8,257.5 L440.2,257.3 L438.6,257.1 L437.0,257.0 L435.5,256.9 L433.9,256.8 L432.4,256.8 L430.9,256.8 L429.4,256.8 L427.8,256.8 L426.3,256.9 L424.7,257.0 L423.2,257.1 L421.6,257.3 L420.0,257.4 L418.4,257.6 L416.8,257.8 L415.2,258.0 L413.7,258.3 L412.1,258.6 L410.5,258.9 L408.9,259.3 L407.4,259.6 L405.8,260.0 L404.2,260.5 L402.6,260.9 L400.8,261.3 L398.9,261.7 L396.9,262.1 L394.8,262.5 L392.6,262.9 L390.4,263.4 L388.3,263.9 L386.1,264.5 L384.0,265.1 L381.9,265.7 L379.8,266.3 L377.7,267.1 L375.6,267.8 L373.5,268.6 L371.4,269.3 L369.2,270.2 L367.0,271.0 L364.8,271.9 L362.6,272.8 L360.4,273.8 L358.2,274.8 L356.0,275.8 L353.8,276.9 L351.6,278.0 L349.3,279.2 L347.0,280.3 L344.5,281.6 L342.1,282.8 L339.6,284.1 L337.1,285.4 L334.6,286.8 L332.1,288.2 L329.6,289.7 L327.1,291.2 L324.6,292.8 L322.0,294.4 L319.5,296.0 L317.0,297.7 L314.5,299.4 L311.9,301.2 L309.3,303.0 L306.8,304.9 L304.2,306.8 L301.7,308.8 L299.2,310.8 L296.8,312.8 L294.4,314.9 L291.9,317.1 L289.5,319.3 L286.9,321.5 L284.4,323.8 L281.8,326.2 L279.2,328.6 L276.6,331.1 L274.1,333.6 L271.5,336.2 L269.0,338.8 L266.5,341.4 L264.0,344.2 L261.4,347.0 L258.9,349.8 L256.4,352.7 L253.9,355.6 L251.4,358.6 L249.0,361.7 L246.5,364.8 L244.1,367.9 L241.7,371.1 L239.4,374.3 L237.1,377.6 L234.8,381.0 L232.6,384.4 L230.4,387.8 L228.3,391.3 L226.2,394.8 L224.3,398.3 L222.5,401.8 L220.7,405.3 L219.1,408.9 L217.5,412.5 L215.9,416.2 L214.3,419.9 L212.7,423.6 L211.0,427.5 L209.3,431.4 L207.6,435.4 L206.0,439.5 L204.3,443.6 L202.7,447.7 L201.1,451.9 L199.6,456.2 L198.2,460.4 L197.0,464.6 L195.8,468.8 L194.6,473.1 L193.5,477.4 L192.5,481.8 L191.4,486.2 L190.4,490.7 L189.4,495.2 L188.5,499.8 L187.6,504.4 L186.7,509.0 L186.0,513.6 L185.3,518.3 L184.7,523.0 L184.2,527.6 L183.8,532.3 L183.5,536.9 L183.3,541.6 L183.1,546.2 L183.0,550.9 L183.0,555.6 L183.0,560.3 L183.1,565.1 L183.2,569.8 L183.4,574.6 L183.7,579.4 L184.1,584.2 L184.5,589.0 L185.0,593.8 L185.6,598.6 L186.2,603.4 L186.9,608.2 L187.6,613.1 L188.4,617.9 L189.3,622.8 L190.2,627.7 L191.1,632.6 L192.1,637.6 L193.2,642.5 L194.3,647.5 L195.5,652.5 L196.8,657.3 L198.3,662.2 L199.8,667.0 L201.5,671.7 L203.2,676.4 L205.0,681.1 L206.9,685.7 L208.8,690.4 L210.8,695.0 L212.9,699.5 L215.1,704.1 L217.3,708.6 L219.6,713.2 L222.0,717.7 L224.3,722.3 L226.8,726.8 L229.2,731.4 L231.7,736.0 L234.3,740.6 L236.9,745.2 L239.7,749.6 L242.6,753.9 L245.6,758.1 L248.6,762.2 L251.8,766.3 L255.0,770.4 L258.2,774.4 L261.6,778.3 L265.0,782.1 L268.6,785.8 L272.2,789.4 L275.8,793.1 L279.4,796.8 L283.1,800.5 L286.8,804.2 L290.6,807.9 L294.4,811.5 L298.2,815.0 L302.2,818.5 L306.2,821.8 L310.3,825.0 L314.5,828.2 L318.7,831.3 L323.0,834.3 L327.3,837.2 L331.7,840.0 L336.1,842.6 L340.6,845.3 L345.1,847.8 L349.7,850.3 L354.3,852.8 L358.9,855.3 L363.5,857.7 L368.2,860.0 L372.9,862.4 L377.7,864.8 L382.4,867.1 L387.2,869.3 L392.1,871.3 L397.0,873.3 L401.9,875.1 L406.9,876.8 L411.9,878.3 L417.0,879.7 L422.1,881.0 L427.2,882.2 L432.3,883.2 L437.4,884.2 L442.6,885.1 L447.7,885.9 L452.9,886.7 L458.1,887.4 L463.3,888.1 L468.5,888.7 L473.7,889.2 L478.9,889.7 L484.2,890.1 L489.4,890.4 L494.7,890.6 L499.9,890.6 L505.1,890.6 L510.4,890.4 L515.6,890.1 L520.9,889.7 L526.1,889.2 L531.3,888.7 L536.5,888.1 L541.7,887.4 L546.9,886.7 L552.1,885.9 L557.2,885.1 L562.4,884.2 L567.5,883.2 L572.6,882.2 L577.7,881.0 L582.8,879.7 L587.9,878.3 L592.9,876.8 L597.9,875.1 L602.8,873.3 L607.7,871.3 L612.6,869.3 L617.4,867.1 L622.1,864.8 L626.9,862.4 L631.6,860.0 L636.3,857.7 L640.9,855.3 L645.5,852.8 L650.1,850.3 L654.7,847.8 L659.2,845.3 L663.7,842.6 L668.1,840.0 L672.5,837.2 L676.8,834.3 L681.1,831.3 L685.3,828.2 L689.5,825.0 L693.6,821.8 L697.6,818.5 L701.6,815.0 L705.4,811.5 L709.2,807.9 L713.0,804.2 L716.7,800.5 L720.4,796.8 L724.0,793.1 L727.6,789.4 L731.2,785.8 L734.8,782.1 L738.2,778.3 L741.6,774.4 L744.8,770.4 L748.0,766.3 L751.2,762.2 L754.2,758.1 L757.2,753.9 L760.1,749.6 L762.9,745.2 L765.5,740.6 L768.1,736.0 L770.6,731.4 L773.0,726.8 L775.5,722.3 L777.8,717.7 L780.2,713.2 L782.5,708.6 L784.7,704.1 L786.9,699.5 L789.0,695.0 L791.0,690.4 L792.9,685.7 L794.8,681.1 L796.6,676.4 L798.3,671.7 L800.0,667.0 L801.5,662.2 L803.0,657.3 L804.3,652.5 L805.5,647.5 L806.6,642.5 L807.7,637.6 L808.7,632.6 L809.6,627.7 L810.5,622.8 L811.4,617.9 L812.2,613.1 L812.9,608.2 L813.6,603.4 L814.2,598.6 L814.8,593.8 L815.3,589.0 L815.7,584.2 L816.1,579.4 L816.4,574.6 L816.6,569.8 L816.7,565.1 L816.8,560.3 L816.8,555.6 L816.8,550.9 L816.7,546.2 L816.5,541.6 L816.3,536.9 L816.0,532.3 L815.6,527.6 L815.1,523.0 L814.5,518.3 L813.8,513.6 L813.1,509.0 L812.2,504.4 L811.3,499.8 L810.4,495.2 L809.4,490.7 L808.4,486.2 L807.3,481.8 L806.3,477.4 L805.2,473.1 L804.0,468.8 L802.8,464.6 L801.6,460.4 L800.2,456.2 L798.7,451.9 L797.1,447.7 L795.5,443.6 L793.8,439.5 L792.2,435.4 L790.5,431.4 L788.8,427.5 L787.1,423.6 L785.5,419.9 L783.9,416.2 L782.3,412.5 L780.7,408.9 L779.1,405.3 L777.3,401.8 L775.5,398.3 L773.6,394.8 L771.5,391.3 L769.4,387.8 L767.2,384.4 L765.0,381.0 L762.7,377.6 L760.4,374.3 L758.1,371.1 L755.7,367.9 L753.3,364.8 L750.8,361.7 L748.4,358.6 L745.9,355.6 L743.4,352.7 L740.9,349.8 L738.4,347.0 L735.8,344.2 L733.3,341.4 L730.8,338.8 L728.3,336.2 L725.7,333.6 L723.2,331.1 L720.6,328.6 L718.0,326.2 L715.4,323.8 L712.9,321.5 L710.3,319.3 L707.9,317.1 L705.4,314.9 L703.0,312.8 L700.6,310.8 L698.1,308.8 L695.6,306.8 L693.0,304.9 L690.5,303.0 L687.9,301.2 L685.3,299.4 L682.8,297.7 L680.3,296.0 L677.8,294.4 L675.2,292.8 L672.7,291.2 L670.2,289.7 L667.7,288.2 L665.2,286.8 L662.7,285.4 L660.2,284.1 L657.7,282.8 L655.3,281.6 L652.8,280.3 L650.5,279.2 L648.2,278.0 L646.0,276.9 L643.8,275.8 L641.6,274.8 L639.4,273.8 L637.2,272.8 L635.0,271.9 L632.8,271.0 L630.6,270.2 L628.4,269.3 L626.3,268.6 L624.2,267.8 L622.1,267.1 L620.0,266.3 L617.9,265.7 L615.8,265.1 L613.7,264.5 L611.5,263.9 L609.4,263.4 L607.2,262.9 L605.0,262.5 L602.9,262.1 L600.9,261.7 L599.0,261.3 L597.2,260.9 L595.6,260.5 L594.0,260.0 L592.4,259.6 L590.9,259.3 L589.3,258.9 L587.7,258.6 L586.1,258.3 L584.6,258.0 L583.0,257.8 L581.4,257.6 L579.8,257.4 L578.2,257.3 L576.6,257.1 L575.1,257.0 L573.5,256.9 L572.0,256.8 L570.4,256.8 L568.9,256.8 L567.4,256.8 L565.9,256.8 L564.3,256.9 L562.8,257.0 L561.2,257.1 L559.6,257.3 L558.0,257.5 L556.4,257.7 L554.9,258.0 L553.3,258.3 L551.7,258.6 L550.1,258.9 L548.5,259.3 L546.9,259.8 L545.3,260.2 L543.8,260.6 L542.3,261.1 L540.9,261.5 L539.6,261.9 L538.4,262.3 L537.2,262.6 L536.1,262.9 L535.1,263.2 L534.0,263.5 L532.9,263.9 L531.7,264.4 L530.4,265.0 L528.9,265.8 L527.1,266.9 L525.0,268.2 L522.9,269.7 L520.8,271.2 L518.7,272.8 L516.8,274.3 L514.9,275.7 L513.2,277.1 L511.6,278.4 L510.2,279.6 L508.9,280.7 L507.8,281.6 L506.8,282.5 L505.9,283.4 L505.0,284.3 L504.1,285.1 L503.2,286.0 L502.4,286.9 L501.7,287.7 L501.0,288.4 L499.9,289.7 Z" fill="none" stroke="#4b5578" stroke-width="2.6" stroke-linejoin="round"/>
</g>
<rect x="70.5" y="73.9" width="858.6" height="858.4" fill="none" stroke="#111" stroke-width="1.4"/>
<g font-family="Liberation Sans" font-size="21.5" fill="#141414">
<text transform="translate(33.50,43.00) scale(1,1.060)" text-anchor="middle">120°</text>
<text transform="translate(72.00,43.00) scale(1,1.060)" text-anchor="start" letter-spacing="0.3">Углы гамма</text>
<text transform="translate(501.00,43.00) scale(1,1.060)" text-anchor="middle">180°</text>
<text transform="translate(967.00,43.00) scale(1,1.060)" text-anchor="middle">120°</text>
<text transform="translate(33.50,169.00) scale(1,1.060)" text-anchor="middle">105°</text>
<text transform="translate(967.00,169.00) scale(1,1.060)" text-anchor="middle">105°</text>
<text transform="translate(32.00,296.00) scale(1,1.060)" text-anchor="middle">90°</text>
<text transform="translate(967.00,296.00) scale(1,1.060)" text-anchor="middle">90°</text>
<text transform="translate(32.00,421.00) scale(1,1.060)" text-anchor="middle">75°</text>
<text transform="translate(967.00,421.00) scale(1,1.060)" text-anchor="middle">75°</text>
<text transform="translate(32.00,564.50) scale(1,1.060)" text-anchor="middle">60°</text>
<text transform="translate(967.00,564.50) scale(1,1.060)" text-anchor="middle">60°</text>
<text transform="translate(32.00,762.00) scale(1,1.060)" text-anchor="middle">45°</text>
<text transform="translate(967.00,762.00) scale(1,1.060)" text-anchor="middle">45°</text>
<text transform="translate(106.00,977.00) scale(1,1.060)" text-anchor="middle">30°</text>
<text transform="translate(317.50,977.00) scale(1,1.060)" text-anchor="middle">15°</text>
<text transform="translate(500.00,977.00) scale(1,1.060)" text-anchor="middle">0°</text>
<text transform="translate(682.00,977.00) scale(1,1.060)" text-anchor="middle">15°</text>
<text transform="translate(892.00,977.00) scale(1,1.060)" text-anchor="middle">30°</text>
<text transform="translate(500.80,155.00) scale(1,1.060)" text-anchor="start">50</text>
<text transform="translate(500.80,412.00) scale(1,1.060)" text-anchor="start">50</text>
<text transform="translate(500.80,541.00) scale(1,1.060)" text-anchor="start">100</text>
<text transform="translate(500.80,670.00) scale(1,1.060)" text-anchor="start">150</text>
<text transform="translate(500.80,799.00) scale(1,1.060)" text-anchor="start">200</text>
<text transform="translate(500.80,927.00) scale(1,1.060)" text-anchor="start">250</text>
<text transform="translate(921.00,919.00) scale(1,1.060)" text-anchor="end">cd/klm</text>
</g>
</svg>
</body></html>
